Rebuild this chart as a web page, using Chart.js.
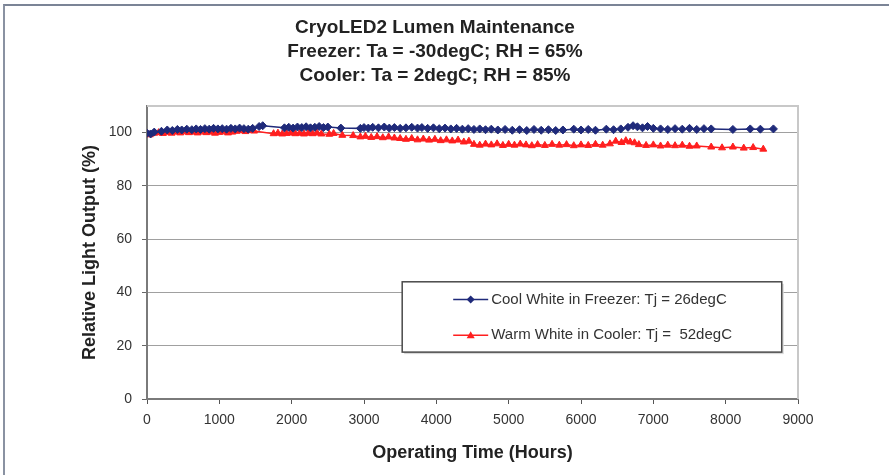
<!DOCTYPE html>
<html>
<head>
<meta charset="utf-8">
<script src="https://cdn.jsdelivr.net/npm/chart.js@4/dist/chart.umd.min.js"></script>
<style>
  body { margin: 0; background: #fff; }
  #wrap { position: relative; width: 889px; height: 475px; }
  #frame { position: absolute; left: 3px; top: 4px; right: 0; bottom: 0; border-top: 2px solid #7b8496; border-left: 2px solid #8a92a2; pointer-events: none; }
  canvas { position: absolute; left: 0; top: 0; }
</style>
</head>
<body>
<div id="wrap">
  <canvas id="chart" width="889" height="475"></canvas>
  <div id="frame"></div>
</div>
<script>
// Cool White in Freezer (hours / relative output %)
const coolHours = [0, 50, 100, 200, 280, 350, 420, 480, 550, 620, 680, 740, 800, 860, 920, 980, 1040, 1100, 1160, 1220, 1280, 1340, 1400, 1460, 1550, 1600,
  1900, 1960, 2020, 2080, 2140, 2200, 2260, 2320, 2380, 2440, 2500, 2680,
  2950, 3000, 3060, 3120, 3200, 3280, 3350, 3420, 3500, 3580, 3660, 3740, 3800, 3880, 3960, 4040, 4120, 4200, 4280, 4360, 4440, 4520, 4600, 4680, 4760, 4850,
  4950, 5050, 5150, 5250, 5350, 5450, 5550, 5650, 5750, 5900, 6000, 6100, 6200, 6350, 6450, 6550, 6650, 6720, 6780, 6850, 6920, 7000,
  7100, 7200, 7300, 7400, 7500, 7600, 7700, 7800, 8100, 8340, 8480, 8660];
const coolOutput = [99.8, 99.5, 100.2, 100.5, 101.0, 100.8, 101.2, 101.0, 101.3, 101.1, 101.4, 101.2, 101.5, 101.3, 101.6, 101.4, 101.5, 101.3, 101.6, 101.4, 101.7, 101.5, 101.3, 101.6, 102.3, 102.6,
  101.8, 102.0, 101.7, 102.1, 101.9, 102.2, 101.8, 102.0, 102.3, 101.9, 102.1, 101.7,
  101.6, 101.9, 101.7, 102.0, 101.8, 102.1, 101.7, 101.9, 101.6, 101.8, 102.0, 101.7, 101.9, 101.6, 101.8, 101.5, 101.7, 101.4, 101.6, 101.3, 101.5, 101.2, 101.4, 101.1, 101.3, 101.0,
  101.2, 100.9, 101.1, 100.8, 101.2, 100.9, 101.1, 100.8, 101.0, 101.3, 101.0, 101.2, 100.9, 101.3, 101.1, 101.4, 102.0, 102.6, 102.2, 101.8, 102.3, 101.6,
  101.4, 101.2, 101.5, 101.3, 101.6, 101.2, 101.5, 101.4, 101.2, 101.4, 101.3, 101.4];

// Warm White in Cooler
const warmHours = [0, 40, 100, 160, 220, 280, 340, 400, 460, 520, 580, 640, 700, 760, 820, 880, 940, 1000, 1060, 1120, 1180, 1240, 1300, 1360, 1420, 1480,
  1750, 1810, 1870, 1930, 1990, 2050, 2110, 2170, 2230, 2290, 2350, 2410, 2520, 2580, 2700, 2850,
  2950, 3020, 3100, 3180, 3260, 3340, 3420, 3500, 3580, 3660, 3740, 3820, 3900, 3980, 4060, 4140, 4220, 4300, 4380, 4450,
  4520, 4600, 4680, 4760, 4840, 4920, 5000, 5080, 5160, 5240, 5320, 5400, 5500, 5600, 5700, 5800, 5900, 6000, 6100, 6200, 6300, 6400,
  6480, 6560, 6620, 6680, 6740, 6800, 6900, 7000, 7100, 7200, 7300, 7400, 7500, 7600, 7800, 7950, 8100, 8250, 8380, 8520];
const warmOutput = [99.6, 99.2, 99.8, 100.0, 99.7, 100.1, 99.8, 100.2, 99.9, 100.3, 100.0, 100.2, 99.9, 100.3, 100.0, 100.2, 99.8, 100.1, 100.3, 99.9, 100.2, 100.5, 100.8, 100.4, 100.9, 100.6,
  99.6, 99.8, 99.5, 99.7, 99.9, 99.6, 99.8, 99.5, 99.8, 99.6, 99.9, 99.5, 99.4, 99.7, 99.0, 98.9,
  98.4, 98.6, 98.2, 98.5, 98.1, 98.4, 98.0, 97.8, 97.5, 97.8, 97.3, 97.6, 97.2, 97.5, 97.0, 97.3, 96.9, 97.2, 96.5, 96.8,
  95.6, 95.3, 95.7, 95.4, 95.8, 95.2, 95.6, 95.3, 95.7, 95.4, 95.1, 95.5, 95.2, 95.6, 95.3, 95.5, 95.1, 95.4, 95.2, 95.6, 95.3, 95.8,
  96.8, 96.3, 97.0, 96.5, 96.2, 95.5, 95.2, 95.4, 95.0, 95.3, 95.1, 95.3, 94.9, 95.0, 94.6, 94.3, 94.6, 94.2, 94.4, 93.8];

const seriesNames = ['Cool White in Freezer: Tj = 26degC', 'Warm White in Cooler: Tj =  52degC'];
const titleLines = ['CryoLED2 Lumen Maintenance', 'Freezer: Ta = -30degC; RH = 65%', 'Cooler: Ta = 2degC; RH = 85%'];
const xRange = [0, 9000], xStep = 1000;
const yRange = [0, 110], yStep = 20;

const BLUE = '#1f2a7a', RED = '#ff1f1f';
const FONT = "'Liberation Sans', Arial, sans-serif";

const toPoints = (xs, ys) => xs.map((x, i) => ({ x, y: ys[i] }));

// light top/right border of the plot box
const plotBox = {
  id: 'plotBox',
  beforeDatasetsDraw(chart) {
    const { ctx, chartArea: a } = chart;
    ctx.save();
    ctx.strokeStyle = '#c8c8c8';
    ctx.lineWidth = 2;
    ctx.beginPath();
    ctx.moveTo(a.left, a.top);
    ctx.lineTo(a.right, a.top);
    ctx.lineTo(a.right, a.bottom);
    ctx.stroke();
    ctx.restore();
  }
};

function marker(ctx, style, x, y, r, color) {
  ctx.fillStyle = color;
  ctx.beginPath();
  if (style === 'rectRot') {
    ctx.moveTo(x, y - r); ctx.lineTo(x + r, y); ctx.lineTo(x, y + r); ctx.lineTo(x - r, y);
  } else {
    ctx.moveTo(x, y - r); ctx.lineTo(x + r, y + r * 0.75); ctx.lineTo(x - r, y + r * 0.75);
  }
  ctx.closePath();
  ctx.fill();
}

// boxed legend inside the plot, like the Excel one
const boxLegend = {
  id: 'boxLegend',
  afterDraw(chart) {
    const { ctx, chartArea: a } = chart;
    const x0 = a.left + a.width * 0.392, x1 = a.left + a.width * 0.975;
    const y0 = a.top + a.height * 0.60, y1 = a.top + a.height * 0.84;
    ctx.save();
    ctx.fillStyle = '#d8d8d8';
    ctx.fillRect(x0 + 2, y0 + 2, x1 - x0, y1 - y0);
    ctx.fillStyle = '#fff';
    ctx.fillRect(x0, y0, x1 - x0, y1 - y0);
    ctx.strokeStyle = '#4a4a4a';
    ctx.lineWidth = 1.5;
    ctx.strokeRect(x0, y0, x1 - x0, y1 - y0);
    const rows = [y0 + (y1 - y0) * 0.25, y0 + (y1 - y0) * 0.76];
    chart.data.datasets.forEach((ds, i) => {
      const y = rows[i], lx = x0 + 51;
      ctx.strokeStyle = ds.borderColor;
      ctx.lineWidth = 1.5;
      ctx.beginPath();
      ctx.moveTo(lx, y); ctx.lineTo(lx + 35, y);
      ctx.stroke();
      marker(ctx, ds.pointStyle, lx + 17.5, y, 4, ds.borderColor);
      ctx.fillStyle = '#333';
      ctx.font = '15px ' + FONT;
      ctx.textBaseline = 'middle';
      ctx.fillText(ds.label, lx + 38, y);
    });
    ctx.restore();
  }
};

new Chart(document.getElementById('chart'), {
  type: 'scatter',
  data: {
    datasets: [
      { label: seriesNames[0], data: toPoints(coolHours, coolOutput), showLine: true, borderColor: BLUE, backgroundColor: BLUE,
        borderWidth: 1.5, pointStyle: 'rectRot', pointRadius: 4, pointBorderWidth: 1 },
      { label: seriesNames[1], data: toPoints(warmHours, warmOutput), showLine: true, borderColor: RED, backgroundColor: RED,
        borderWidth: 1.5, pointStyle: 'triangle', pointRadius: 4, pointBorderWidth: 1 }
    ]
  },
  options: {
    responsive: false,
    animation: false,
    layout: { padding: { left: 72, right: 91, top: 0, bottom: 0 } },
    plugins: {
      legend: { display: false },
      tooltip: { enabled: false },
      title: {
        display: true, text: titleLines, color: '#222',
        font: { family: FONT, size: 19, weight: 'bold', lineHeight: 24 / 19 },
        padding: { top: 16, bottom: 18 }
      }
    },
    scales: {
      x: {
        type: 'linear', min: xRange[0], max: xRange[1],
        border: { color: '#7a7a7a', width: 2 },
        grid: { drawOnChartArea: false, drawTicks: true, tickLength: 5, color: '#555' },
        ticks: { stepSize: xStep, color: '#333', padding: 8, maxRotation: 0, font: { family: FONT, size: 14 }, callback: v => String(v) },
        title: { display: true, text: 'Operating Time (Hours)', color: '#222', font: { family: FONT, size: 18, weight: 'bold' }, padding: { top: 4, bottom: 11 } },
        afterFit(s) { s.height = 76; }
      },
      y: {
        min: yRange[0], max: yRange[1],
        border: { color: '#7a7a7a', width: 2 },
        grid: { color: '#a0a0a0', lineWidth: 1, tickLength: 5, tickColor: '#666' },
        ticks: { stepSize: yStep, includeBounds: false, color: '#333', padding: 10, font: { family: FONT, size: 14 }, callback: v => String(v) },
        title: { display: true, text: 'Relative Light Output (%)', color: '#222', font: { family: FONT, size: 18, weight: 'bold' }, padding: { top: 7, bottom: 0 } },
        afterFit(s) { s.width = 75; }
      }
    }
  },
  plugins: [plotBox, boxLegend]
});
</script>
</body>
</html>
